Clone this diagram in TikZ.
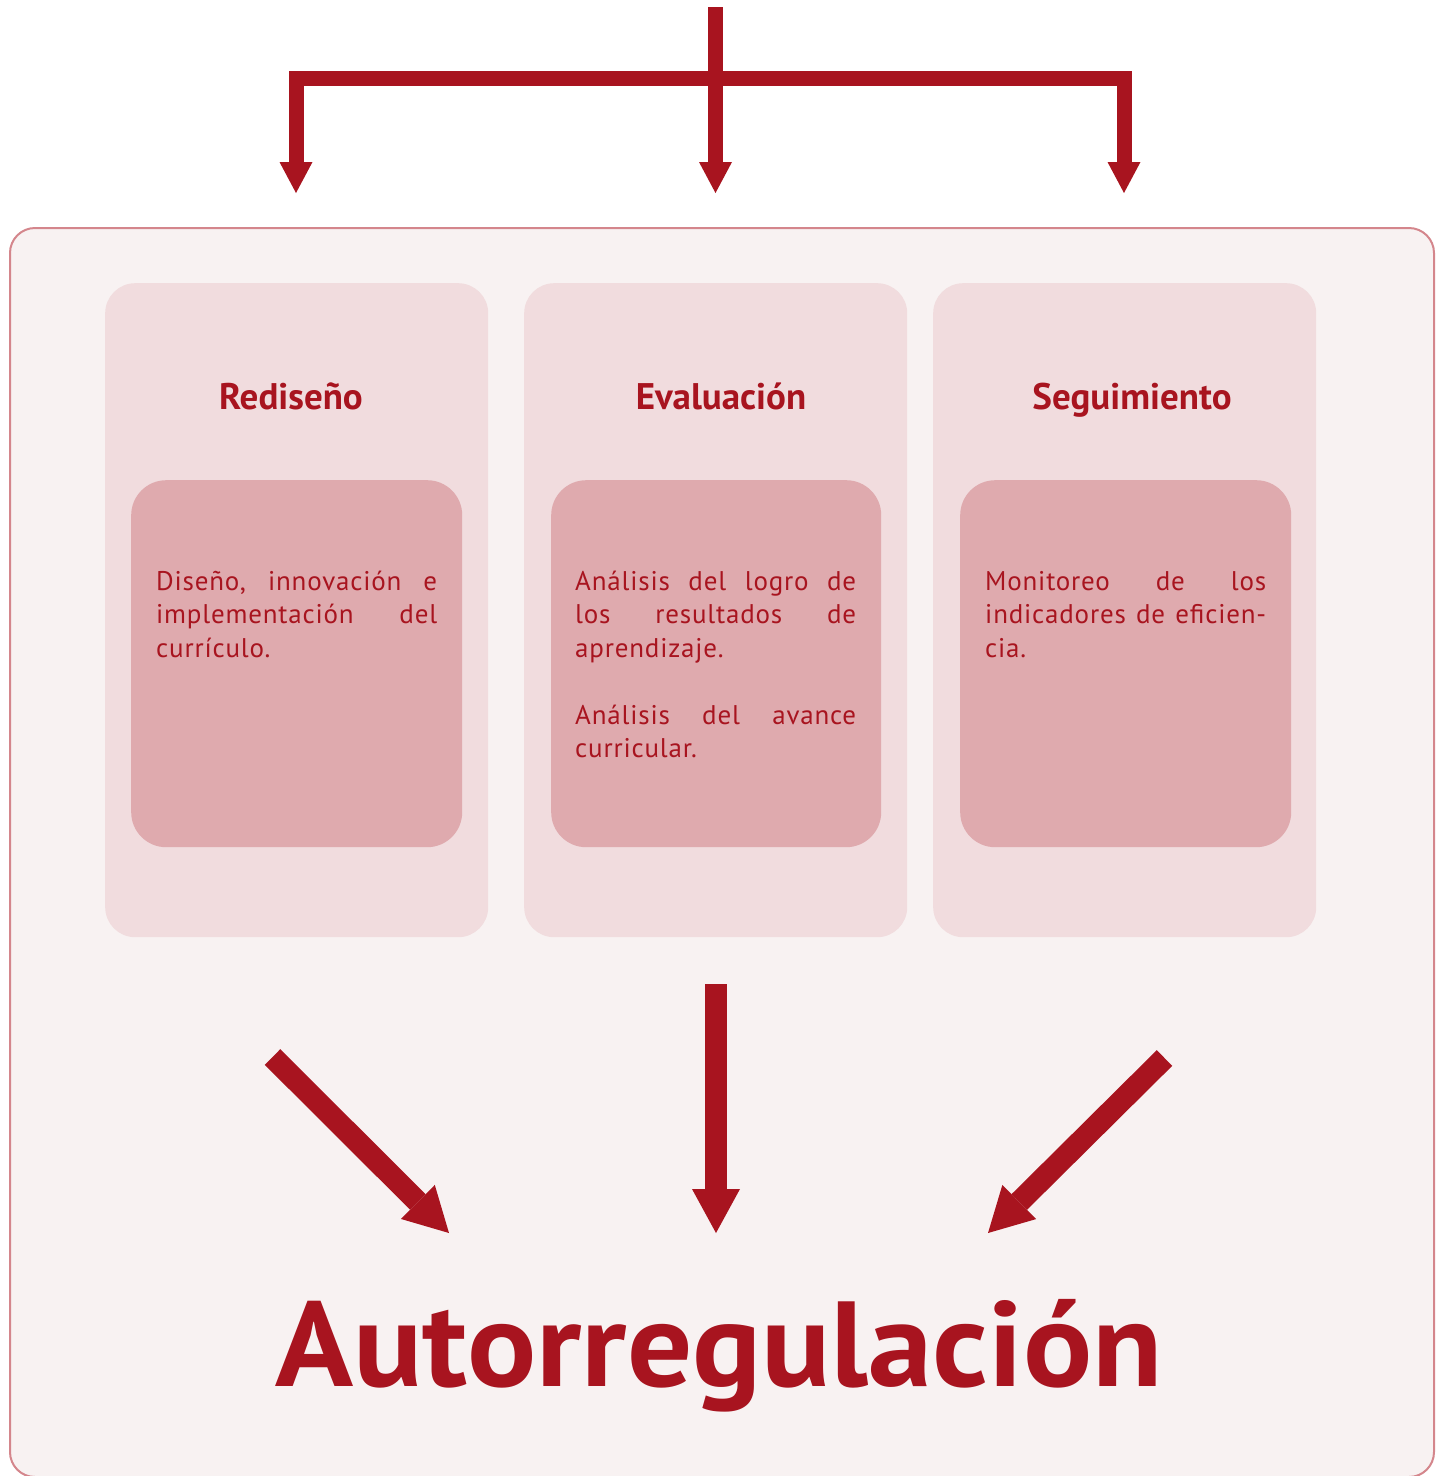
\documentclass[tikz,border=0pt]{standalone}
\usepackage{fontspec}
\setmainfont{PT Sans}
\newfontfamily\bodyfont[LetterSpace=3]{PT Sans}
\usetikzlibrary{arrows.meta}
\definecolor{redc}{HTML}{A8141F}
\definecolor{outerfill}{HTML}{F8F2F2}
\definecolor{borderc}{HTML}{D4868C}
\definecolor{colfill}{HTML}{F1DCDE}
\definecolor{innerfill}{HTML}{DFAAAE}
\newcommand\jrow[1]{\hbox to 281pt{#1}}
\newcommand\lrow[1]{\hbox to 281pt{#1\hfil}}
\begin{document}
\begin{tikzpicture}[x=1pt,y=-1pt,
  outerbox/.style={draw=borderc, line width=2pt, fill=outerfill, rounded corners=25pt, inner sep=0pt, anchor=north west},
  colbox/.style={fill=colfill, rounded corners=30pt, minimum width=383pt, minimum height=654pt, inner sep=0pt, anchor=north west},
  innerbox/.style={fill=innerfill, rounded corners=35pt, minimum width=331pt, minimum height=367pt, inner sep=0pt, anchor=north west},
  titletext/.style={text=redc, font=\bfseries\fontsize{37pt}{37pt}\selectfont, inner sep=0pt, anchor=base},
  bodytext/.style={text=redc, inner sep=0pt, anchor=base west},
  toparrow/.style={draw=redc, line width=15pt, line join=miter},
  topTip/.tip={Triangle[length=31pt,width=33pt,line width=0pt]},
  botarrow/.style={draw=redc, line width=22pt, -{Triangle[length=44pt,width=48pt,line width=0pt]}},
  bigtext/.style={text=redc, font=\bfseries\fontsize{121pt}{121pt}\selectfont, inner sep=0pt, anchor=base}
]
\useasboundingbox (0,0) rectangle (1440,1476);
% outer frame
\node[outerbox, minimum width=1424pt, minimum height=1249pt] (outer) at (9,227) {};
% columns
\node[colbox] (c1) at (105,283) {};
\node[colbox] (c2) at (524,283) {};
\node[colbox] (c3) at (933,283) {};
% inner boxes
\node[innerbox] (i1) at (131,480) {};
\node[innerbox, minimum width=330pt] (i2) at (551,480) {};
\node[innerbox] (i3) at (960,480) {};
% titles
\node[titletext] (t1) at (291,409) {Rediseño};
\node[titletext] (t2) at (721,409) {Evaluación};
\node[titletext] (t3) at (1132,409) {Seguimiento};
% body texts
\node[bodytext] (b1) at (156,590) {\vtop{\bodyfont\fontsize{27pt}{33.5pt}\selectfont
  \jrow{Diseño,\hfill innovación\hfill e}
  \jrow{implementación\hfill del}
  \lrow{currículo.}}};
\node[bodytext] (b2) at (575,590) {\vtop{\bodyfont\fontsize{27pt}{33.5pt}\selectfont
  \jrow{Análisis\hfill del\hfill logro\hfill de}
  \jrow{los\hfill resultados\hfill de}
  \lrow{aprendizaje.}
  \hbox{}
  \jrow{Análisis\hfill del\hfill avance}
  \lrow{curricular.}}};
\node[bodytext] (b3) at (985,590) {\vtop{\bodyfont\fontsize{27pt}{33.5pt}\selectfont
  \jrow{Monitoreo\hfill de\hfill los}
  \jrow{indicadores\hfill de\hfill eficien-}
  \lrow{cia.}}};
% big label
\node[bigtext] (auto) at (719,1386) {\scalebox{1.066}[1]{Autorregulación}};
% top connectors
\coordinate (src) at (715.5,7);
\coordinate (tipL) at (296,193);
\coordinate (tipM) at (715.5,193);
\coordinate (tipR) at (1124,193);
\coordinate (barL) at (296,78);
\coordinate (barR) at (1124,78);
\draw[toparrow, -topTip] (src) -- (tipM);
\draw[toparrow, topTip-topTip] (tipL) -- (barL) -- (barR) -- (tipR);
% bottom arrows
\coordinate (dL0) at (272.5,1057);
\coordinate (dL1) at (449,1233);
\coordinate (dM0) at (716,984);
\coordinate (dM1) at (716,1233);
\coordinate (dR0) at (1164.5,1058);
\coordinate (dR1) at (988,1233);
\draw[botarrow] (dL0) -- (dL1);
\draw[botarrow] (dM0) -- (dM1);
\draw[botarrow] (dR0) -- (dR1);
\end{tikzpicture}
\end{document}
